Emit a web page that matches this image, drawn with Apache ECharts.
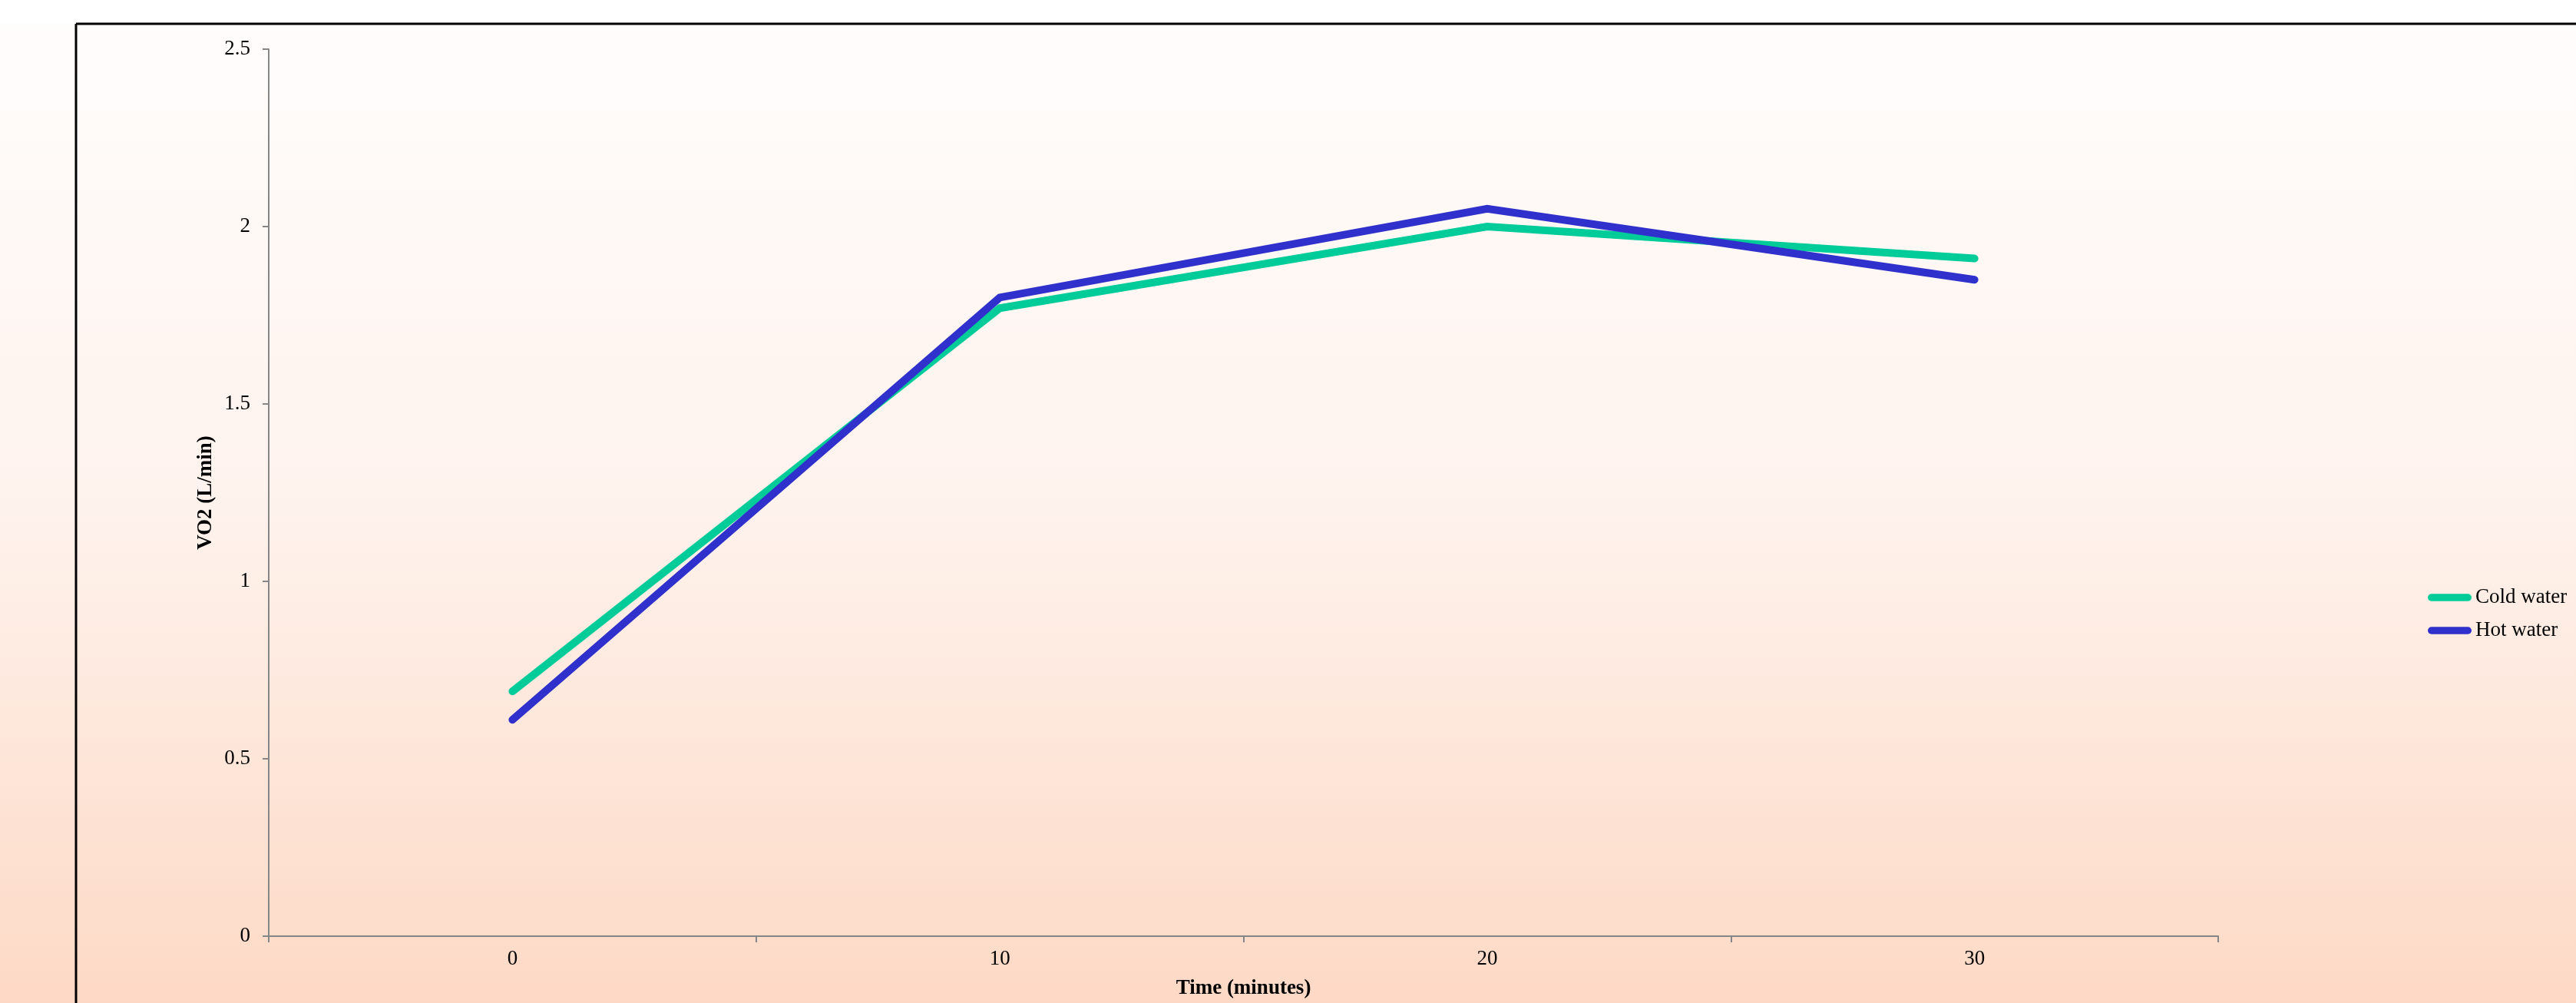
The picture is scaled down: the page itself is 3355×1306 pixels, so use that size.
<!DOCTYPE html>
<html>
<head>
<meta charset="utf-8">
<script src="https://cdn.jsdelivr.net/npm/echarts@6/dist/echarts.min.js"></script>
<style>
  html, body { margin: 0; padding: 0; background: #ffffff; }
  #chart { width: 3355px; height: 1306px; }
</style>
</head>
<body>
<div id="chart"></div>
<script>
// Oxygen uptake over time for the two water-temperature trials
const timeMinutes = ['0', '10', '20', '30'];
const coldWater = [0.69, 1.77, 2.00, 1.91];
const hotWater = [0.61, 1.80, 2.05, 1.85];
const yTicks = { min: 0, max: 2.5, interval: 0.5 };

const serifFont = "'Liberation Serif', 'Times New Roman', serif";
const axisGrey = '#868686';

const chart = echarts.init(document.getElementById('chart'), null, { renderer: 'canvas' });

chart.setOption({
  backgroundColor: '#ffffff',
  animation: false,
  graphic: [
    {
      type: 'rect',
      z: -10,
      shape: { x: 0, y: 31, width: 3355, height: 1275 },
      style: {
        fill: {
          type: 'linear', x: 0, y: 0, x2: 0, y2: 1,
          colorStops: [
            { offset: 0, color: '#fffdfc' },
            { offset: 0.5, color: '#fef2ec' },
            { offset: 1, color: '#fdd9c5' }
          ]
        }
      }
    },
    {
      type: 'line',
      z: -5,
      shape: { x1: 99, y1: 31, x2: 3355, y2: 31 },
      style: { stroke: '#000000', lineWidth: 3 }
    },
    {
      type: 'line',
      z: -5,
      shape: { x1: 99, y1: 31, x2: 99, y2: 1306 },
      style: { stroke: '#000000', lineWidth: 3 }
    }
  ],
  grid: { left: 350, right: 466, top: 64, bottom: 84, containLabel: false },
  legend: {
    orient: 'vertical',
    left: 3157,
    top: 759,
    itemWidth: 57,
    itemHeight: 10,
    itemGap: 15,
    icon: 'path://M5,0 L55,0 A5,5 0 0 1 55,10 L5,10 A5,5 0 0 1 5,0 Z',
    textStyle: { fontFamily: serifFont, fontSize: 27, color: '#000000', lineHeight: 28 },
    data: ['Cold water', 'Hot water']
  },
  xAxis: {
    type: 'category',
    data: timeMinutes,
    boundaryGap: true,
    name: 'Time (minutes)',
    nameLocation: 'middle',
    nameGap: 55,
    nameTextStyle: { fontFamily: serifFont, fontSize: 27, fontWeight: 'bold', color: '#000000' },
    axisLine: { show: true, lineStyle: { color: axisGrey, width: 2 } },
    axisTick: { show: true, length: 8, lineStyle: { color: axisGrey, width: 2 } },
    axisLabel: { margin: 16, fontFamily: serifFont, fontSize: 27, color: '#000000' },
    splitLine: { show: false }
  },
  yAxis: {
    type: 'value',
    min: yTicks.min,
    max: yTicks.max,
    interval: yTicks.interval,
    name: 'VO2 (L/min)',
    nameLocation: 'middle',
    nameGap: 64,
    nameRotate: 90,
    nameTextStyle: { fontFamily: serifFont, fontSize: 27, fontWeight: 'bold', color: '#000000' },
    axisLine: { show: true, lineStyle: { color: axisGrey, width: 2 } },
    axisTick: { show: true, length: 8, lineStyle: { color: axisGrey, width: 2 } },
    axisLabel: { margin: 24, fontFamily: serifFont, fontSize: 27, color: '#000000' },
    splitLine: { show: false }
  },
  series: [
    {
      name: 'Cold water',
      type: 'line',
      data: coldWater,
      symbol: 'none',
      smooth: false,
      itemStyle: { color: '#00cc99' },
      lineStyle: { color: '#00cc99', width: 10, cap: 'round', join: 'miter' }
    },
    {
      name: 'Hot water',
      type: 'line',
      data: hotWater,
      symbol: 'none',
      smooth: false,
      itemStyle: { color: '#3030cc' },
      lineStyle: { color: '#3030cc', width: 10, cap: 'round', join: 'miter' }
    }
  ]
});
</script>
</body>
</html>
